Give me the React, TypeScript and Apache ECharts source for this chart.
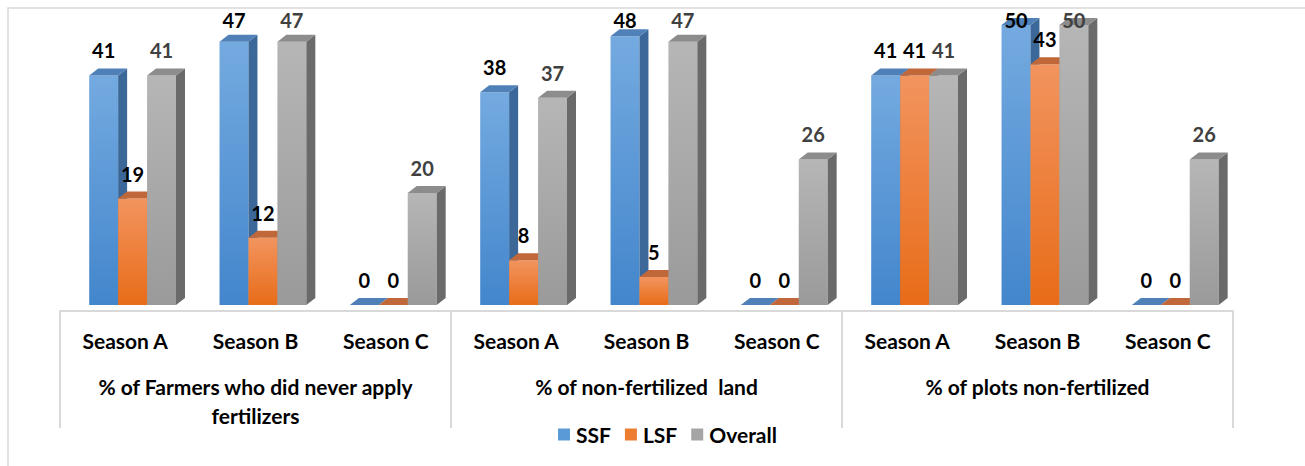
import React, { useEffect, useRef } from "react";
import * as echarts from "echarts";

const groups = [
  "% of Farmers who did never apply\nfertilizers",
  "% of non-fertilized  land",
  "% of plots non-fertilized",
];
const seasons = ["Season A", "Season B", "Season C"];
const ssf = [41, 47, 0, 38, 48, 0, 41, 50, 0];
const lsf = [19, 12, 0, 8, 5, 0, 41, 43, 0];
const overall = [41, 47, 20, 37, 47, 26, 41, 50, 26];
const seriesNames = ["SSF", "LSF", "Overall"];

const FONT = "Lato";

const palettes = [
  { base: "#5b9bd5", frontTop: "#74aae0", frontBottom: "#4386cc", top: "#4f80b8", side: "#3b6899", label: "#000000" },
  { base: "#ed7d31", frontTop: "#f2945f", frontBottom: "#e86c18", top: "#c0683a", side: "#b3591d", label: "#000000" },
  { base: "#a5a5a5", frontTop: "#b6b6b6", frontBottom: "#9a9a9a", top: "#8c8c8c", side: "#6a6a6a", label: "#404040" },
];

function makeRender(si: number) {
  const p = palettes[si];
  return (params: any, api: any) => {
    const ci = api.value(0);
    const v = api.value(1);
    const base = api.coord([ci, 0]);
    const topPt = api.coord([ci, v]);
    const catW = api.size([1, 0])[0];
    const bw = catW * 0.222;
    const x0 = base[0] - catW * 0.276 + si * bw;
    const x1 = x0 + bw;
    const yb = base[1];
    const yt = topPt[1];
    const dx = 9;
    const dy = 7;
    const children: any[] = [];
    if (v > 0) {
      children.push({
        type: "rect",
        shape: { x: x0, y: yt, width: bw, height: yb - yt },
        style: {
          fill: new echarts.graphic.LinearGradient(0, 0, 0, 1, [
            { offset: 0, color: p.frontTop },
            { offset: 1, color: p.frontBottom },
          ]),
        },
      });
      children.push({
        type: "polygon",
        shape: { points: [[x1, yt], [x1 + dx, yt - dy], [x1 + dx, yb - dy], [x1, yb]] },
        style: { fill: p.side },
      });
    }
    children.push({
      type: "polygon",
      shape: { points: [[x0, yt], [x0 + dx, yt - dy], [x1 + dx, yt - dy], [x1, yt]] },
      style: { fill: p.top },
    });
    const ly = Math.max(yt - 25, 20);
    children.push({
      type: "text",
      z2: 100,
      style: {
        text: String(v),
        x: x0 + bw / 2,
        y: ly,
        align: "center",
        verticalAlign: "middle",
        fill: p.label,
        font: `bold 20px ${FONT}`,
      },
    });
    return { type: "group", children };
  };
}

export default function App() {
  const ref = useRef<HTMLDivElement>(null);
  useEffect(() => {
    if (!ref.current) return;
    const chart = echarts.init(ref.current, undefined, { renderer: "svg" });
    const categories = groups.flatMap(() => seasons);
    const all = [ssf, lsf, overall];
    chart.setOption({
      animation: false,
      backgroundColor: "#ffffff",
      grid: { left: 60, right: 72, top: 25, bottom: 161, containLabel: false },
      legend: {
        left: 553,
        top: 419,
        itemWidth: 12,
        itemHeight: 12,
        itemGap: 14,
        icon: "rect",
        data: seriesNames,
        textStyle: { fontFamily: FONT, fontWeight: "bold", fontSize: 21, color: "#000", padding: [0, 0, 0, 1] },
      },
      xAxis: [
        {
          type: "category",
          data: categories,
          gridIndex: 0,
          position: "bottom",
          axisLine: { show: false },
          axisTick: { show: false },
          axisLabel: {
            interval: 0,
            margin: 22,
            fontFamily: FONT,
            fontWeight: "bold",
            fontSize: 21,
            color: "#000",
            lineHeight: 26,
          },
        },
        {
          type: "category",
          data: groups,
          gridIndex: 0,
          position: "bottom",
          offset: 6,
          axisLine: { show: true, lineStyle: { color: "#d9d9d9", width: 2 } },
          axisTick: { show: true, length: 117, lineStyle: { color: "#d9d9d9", width: 2 } },
          axisLabel: {
            interval: 0,
            margin: 61,
            fontFamily: FONT,
            fontWeight: "bold",
            fontSize: 21,
            color: "#000",
            lineHeight: 29,
          },
        },
      ],
      yAxis: { type: "value", min: 0, max: 50, show: false },
      graphic: [
        {
          type: "rect",
          shape: { x: 8, y: 8, width: 1400, height: 600 },
          style: { fill: "none", stroke: "#d9d9d9", lineWidth: 1.5 },
          silent: true,
          z: -10,
        },
      ],
      series: all.map((vals, si) => ({
        type: "custom",
        name: seriesNames[si],
        xAxisIndex: 0,
        yAxisIndex: 0,
        itemStyle: { color: palettes[si].base },
        encode: { x: 0, y: 1 },
        data: vals.map((v, i) => [i, v]),
        renderItem: makeRender(si),
      })),
    });
    return () => chart.dispose();
  }, []);
  return (
    <div
      ref={ref}
      style={{ position: "absolute", left: 0, top: 0, width: 1305, height: 466 }}
    />
  );
}
